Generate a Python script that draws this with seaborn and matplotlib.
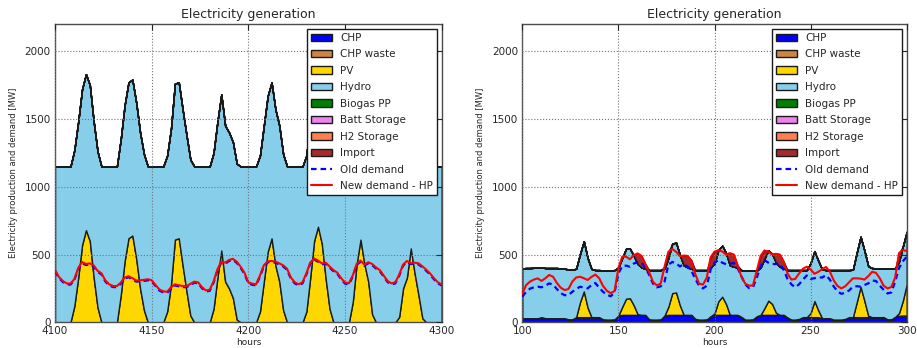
import numpy as np
import pandas as pd
import matplotlib
matplotlib.use("Agg")
import matplotlib.pyplot as plt
import seaborn as sns

# ---------------- data (2-hourly samples) ----------------
hours_L = np.arange(4100, 4301, 2)
hours_R = np.arange(100, 301, 2)

labels = ["CHP", "CHP waste", "PV", "Hydro", "Biogas PP", "Batt Storage", "H2 Storage", "Import"]
colors = ["blue", "peru", "gold", "skyblue", "green", "violet", "coral", "brown"]

# Left panel (hours 4100-4300)
chp_L = [0] * 101
chp_waste_L = [0] * 101
pv_L = [0, 0, 0, 0, 0, 120, 330, 570, 680, 600,
        330, 110, 0, 0, 0, 0, 0, 200, 450, 620,
        640, 470, 250, 90, 0, 0, 0, 0, 0, 80,
        280, 610, 620, 420, 230, 50, 0, 0, 0, 0,
        0, 100, 330, 530, 300, 250, 180, 20, 0, 0,
        0, 0, 0, 80, 300, 520, 619, 420, 300, 90,
        0, 0, 0, 0, 0, 80, 330, 600, 705, 580,
        320, 100, 0, 0, 0, 0, 0, 150, 430, 610,
        430, 300, 60, 0, 0, 0, 0, 0, 0, 40,
        250, 330, 545, 360, 200, 30, 0, 0, 0, 0,
        0]
hydro_L = [1150] * 101
biogas_L = [0] * 101
batt_L = [0] * 101
h2_L = [0] * 101
import_L = [0] * 101
new_demand_L = [385, 335, 305, 287, 285, 318, 400, 445, 430, 435,
                420, 380, 362, 310, 280, 268, 267, 292, 330, 340,
                326, 308, 310, 313, 318, 310, 275, 242, 228, 225,
                258, 280, 273, 268, 267, 283, 300, 295, 260, 235,
                240, 300, 390, 448, 440, 460, 468, 447, 410, 365,
                295, 285, 280, 345, 420, 450, 452, 448, 435, 420,
                395, 330, 295, 280, 295, 360, 440, 471, 455, 435,
                440, 412, 385, 366, 325, 293, 288, 345, 430, 455,
                425, 443, 430, 405, 385, 345, 305, 287, 295, 350,
                425, 452, 437, 440, 435, 413, 388, 360, 325, 295,
                280]
old_demand_L = [378, 328, 298, 280, 278, 310, 392, 437, 422, 427,
                412, 372, 354, 302, 272, 260, 259, 284, 322, 332,
                318, 300, 302, 305, 310, 302, 267, 234, 220, 217,
                250, 272, 265, 260, 259, 275, 292, 287, 252, 227,
                232, 292, 382, 440, 432, 452, 460, 439, 402, 357,
                287, 277, 272, 337, 412, 442, 444, 440, 427, 412,
                387, 322, 287, 272, 287, 352, 432, 463, 447, 427,
                432, 404, 377, 358, 317, 285, 280, 337, 422, 447,
                417, 435, 422, 397, 377, 337, 297, 279, 287, 342,
                417, 444, 429, 432, 427, 405, 380, 352, 317, 287,
                272]

# Right panel (hours 100-300)
chp_R = [30, 30, 30, 30, 30, 30, 30, 30, 30, 30,
         30, 30, 22, 22, 38, 38, 38, 38, 38, 38,
         38, 22, 20, 20, 22, 50, 55, 55, 55, 55,
         55, 55, 55, 22, 20, 20, 22, 50, 55, 55,
         55, 55, 55, 55, 55, 25, 20, 20, 22, 45,
         55, 55, 55, 55, 55, 55, 55, 40, 20, 20,
         22, 45, 55, 55, 55, 55, 55, 55, 55, 35,
         20, 20, 25, 38, 38, 38, 38, 38, 30, 30,
         30, 20, 20, 20, 25, 38, 38, 38, 38, 38,
         38, 38, 38, 38, 38, 22, 22, 40, 48, 50,
         50]
chp_waste_R = [0] * 101
pv_R = [0, 0, 0, 0, 0, 8, 0, 0, 0, 0,
        0, 0, 0, 0, 0, 110, 190, 70, 0, 0,
        0, 0, 0, 0, 0, 0, 60, 120, 122, 70,
        5, 0, 0, 0, 0, 0, 0, 0, 60, 160,
        165, 70, 0, 0, 0, 0, 0, 0, 0, 0,
        10, 100, 134, 80, 0, 0, 0, 0, 0, 0,
        0, 0, 0, 50, 105, 80, 15, 0, 0, 0,
        0, 0, 0, 0, 0, 30, 119, 50, 0, 0,
        0, 0, 0, 0, 0, 0, 0, 110, 224, 120,
        10, 0, 0, 0, 0, 0, 0, 0, 20, 110,
        230]
hydro_R = [368, 370, 370, 372, 372, 367, 370, 370, 370, 370,
           368, 365, 368, 366, 357, 355, 370, 365, 355, 347,
           347, 361, 363, 363, 363, 355, 360, 368, 366, 365,
           370, 350, 340, 363, 365, 365, 363, 345, 360, 365,
           368, 370, 365, 350, 340, 360, 365, 365, 363, 360,
           370, 378, 376, 375, 365, 355, 350, 345, 360, 360,
           358, 337, 350, 365, 370, 370, 370, 355, 343, 350,
           365, 365, 360, 347, 347, 370, 368, 365, 360, 355,
           355, 365, 365, 365, 360, 347, 350, 365, 369, 370,
           365, 362, 360, 357, 357, 373, 373, 355, 380, 400,
           387]
biogas_R = [0] * 101
batt_R = [0] * 101
h2_R = [0] * 101
import_R = [0, 0, 0, 0, 0, 0, 0, 0, 0, 0,
            0, 0, 0, 0, 0, 0, 0, 0, 0, 0,
            0, 0, 0, 0, 0, 0, 9, 0, 0, 5,
            78, 85, 35, 0, 0, 0, 0, 15, 45, 0,
            0, 0, 72, 85, 60, 0, 0, 0, 0, 75,
            86, 0, 0, 0, 90, 90, 15, 0, 0, 0,
            0, 0, 85, 60, 0, 0, 65, 90, 49, 0,
            0, 0, 0, 0, 0, 0, 0, 0, 0, 0,
            0, 0, 0, 0, 0, 0, 0, 0, 0, 0,
            0, 0, 0, 0, 0, 0, 0, 0, 62, 0,
            0]
new_demand_R = [210, 275, 300, 315, 324, 305, 325, 349, 336, 290,
                255, 238, 245, 300, 330, 336, 325, 312, 335, 352,
                325, 268, 232, 215, 230, 400, 484, 484, 465, 495,
                508, 490, 430, 370, 298, 272, 285, 410, 520, 540,
                521, 488, 492, 490, 455, 355, 285, 278, 330, 480,
                521, 532, 523, 500, 510, 500, 420, 336, 285, 270,
                272, 380, 490, 530, 522, 500, 505, 500, 447, 360,
                315, 320, 360, 395, 410, 390, 358, 372, 392, 408,
                375, 310, 268, 250, 265, 295, 324, 324, 322, 315,
                340, 372, 365, 325, 270, 250, 260, 330, 510, 533,
                525]
old_demand_R = [189, 225, 248, 258, 263, 258, 270, 287, 278, 245,
                215, 200, 200, 225, 245, 262, 258, 250, 275, 290,
                255, 225, 203, 192, 220, 360, 415, 418, 410, 433,
                445, 440, 405, 350, 285, 258, 265, 300, 425, 445,
                435, 412, 430, 410, 380, 320, 270, 250, 270, 390,
                440, 459, 440, 428, 432, 438, 400, 340, 280, 252,
                258, 330, 415, 458, 440, 430, 430, 433, 385, 320,
                280, 258, 280, 315, 345, 320, 325, 332, 330, 348,
                315, 265, 228, 210, 218, 235, 262, 266, 263, 275,
                287, 308, 305, 270, 240, 213, 220, 300, 400, 450,
                484]

# ---------------- style ----------------
sns.set_theme(style="white")
plt.rcParams.update({
    "font.family": ["DejaVu Sans"],
    "xtick.direction": "in", "ytick.direction": "in",
    "xtick.top": True, "ytick.right": True,
    "xtick.major.size": 4, "ytick.major.size": 4,
    "xtick.major.width": 0.8, "ytick.major.width": 0.8,
    "xtick.color": "0.15", "ytick.color": "0.15",
    "axes.edgecolor": "0.3", "axes.linewidth": 1.0,
    "text.color": "0.15", "axes.labelcolor": "0.15",
})

fig = plt.figure(figsize=(9.17, 3.48), dpi=100)
axL = fig.add_axes([55 / 917, 1 - 322.3 / 348, 386.7 / 917, 298.3 / 348])
axR = fig.add_axes([522.3 / 917, 1 - 322.3 / 348, 384.4 / 917, 298.3 / 348])

panels = [
    (axL, hours_L, [chp_L, chp_waste_L, pv_L, hydro_L, biogas_L, batt_L, h2_L, import_L],
     old_demand_L, new_demand_L, (4100, 4300), [4100, 4150, 4200, 4250, 4300]),
    (axR, hours_R, [chp_R, chp_waste_R, pv_R, hydro_R, biogas_R, batt_R, h2_R, import_R],
     old_demand_R, new_demand_R, (100, 300), [100, 150, 200, 250, 300]),
]

for ax, x, layers, old_d, new_d, xlim, xticks in panels:
    ax.stackplot(x, *layers, colors=colors, labels=labels,
                 edgecolor="0.1", linewidth=1.0, zorder=2)
    df = pd.DataFrame({"hours": x, "old": old_d, "new": new_d})
    sns.lineplot(data=df, x="hours", y="old", ax=ax, color="blue",
                 linestyle=(0, (2.5, 1.8)), linewidth=1.6, label="Old demand", zorder=3)
    sns.lineplot(data=df, x="hours", y="new", ax=ax, color="red",
                 linewidth=1.5, label="New demand - HP", zorder=4)
    ax.set_xlim(*xlim)
    ax.set_ylim(0, 2200)
    ax.set_xticks(xticks)
    ax.set_yticks([0, 500, 1000, 1500, 2000])
    ax.tick_params(labelsize=7.5, pad=3)
    ax.grid(True, linestyle=":", color="0.45", linewidth=0.8, zorder=0)
    ax.set_axisbelow(False)
    ax.set_title("Electricity generation", fontsize=9, pad=4)
    ax.set_xlabel("hours", fontsize=6.5, labelpad=1)
    ax.set_ylabel("Electricity production and demand [MW]", fontsize=6, labelpad=5)
    h, l = ax.get_legend_handles_labels()
    leg = ax.legend(h, l, loc="upper right", fontsize=7.5, frameon=True, fancybox=False,
                    edgecolor="0.1", framealpha=1, borderaxespad=0.45,
                    labelspacing=0.62, handlelength=2.0, handletextpad=0.8, borderpad=0.4)
    leg.get_frame().set_linewidth(1.0)
    leg.set_zorder(10)

fig.savefig("out.png", dpi=100, facecolor="white")
